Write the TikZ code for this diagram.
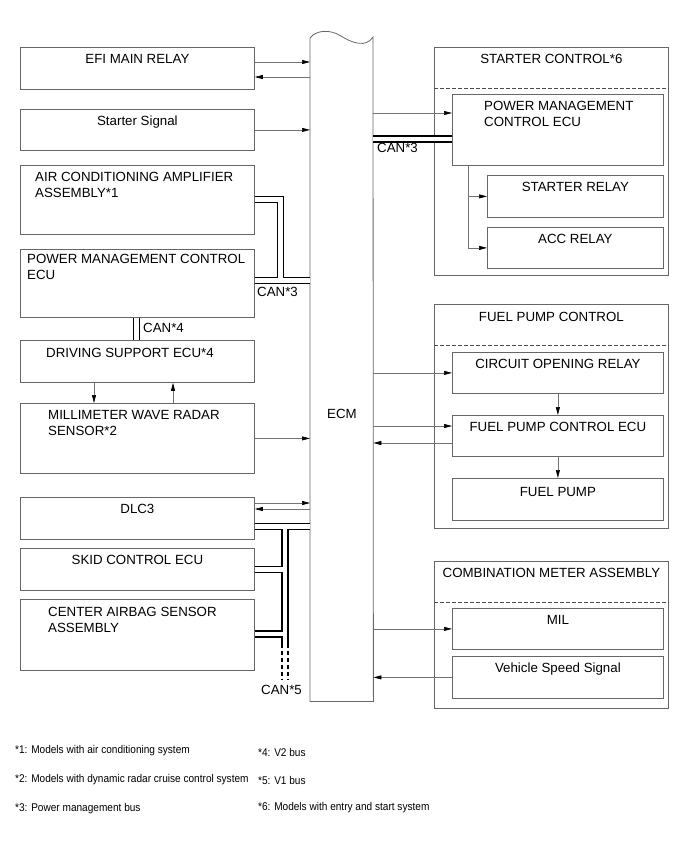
\documentclass[tikz,border=0pt]{standalone}
\usepackage{fontspec}
\setmainfont{Liberation Sans}
\newfontfamily\notefam[FakeStretch=0.9]{Liberation Sans}
\usetikzlibrary{arrows.meta}

\newcommand{\boxfont}{\fontsize{13.3}{16.5}\selectfont}
\newcommand{\notefont}{\notefam\fontsize{11.2}{13}\selectfont}

\tikzset{
  blk/.style={draw=black!60, line width=0.8pt, anchor=north west, inner sep=0pt},
  ttl/.style={anchor=north, inner sep=0pt, font=\boxfont, yshift=-7pt},
  ttll/.style={anchor=north west, inner sep=0pt, font=\boxfont, align=left, yshift=-7pt},
  sig/.style={draw=black!55, line width=0.6pt, -{Triangle[length=8pt,width=4pt,color=black]}},
  canbus/.style={draw=black, line width=1.6pt, double=white, double distance=4.4pt},
  divider/.style={draw=black!70, line width=0.6pt, dash pattern=on 4pt off 2pt},
  canlbl/.style={font=\boxfont, inner sep=0pt, anchor=west},
  note/.style={font=\notefont, inner sep=0pt, anchor=west},
}

\begin{document}
\begin{tikzpicture}[x=1pt, y=-1pt]
\useasboundingbox (0,0) rectangle (691,855);

% left column
\node[blk, minimum width=234pt, minimum height=42pt, label={[ttl]north:EFI MAIN RELAY}] (efi) at (20,47) {};
\node[blk, minimum width=234pt, minimum height=41pt, label={[ttl]north:Starter Signal}] (sts) at (20,109) {};
\node[blk, minimum width=234pt, minimum height=69pt, label={[ttll, xshift=15pt]north west:AIR CONDITIONING AMPLIFIER\\ASSEMBLY*1}] (acamp) at (20,165) {};
\node[blk, minimum width=234pt, minimum height=68pt, label={[ttll, xshift=7pt, yshift=2pt]north west:POWER MANAGEMENT CONTROL\\ECU}] (pmc) at (20,249) {};
\node[blk, minimum width=234pt, minimum height=42pt, label={[ttll, xshift=26pt, yshift=-1pt]north west:DRIVING SUPPORT ECU*4}] (dsecu) at (20,340) {};
\node[blk, minimum width=234pt, minimum height=70pt, label={[ttll, xshift=28pt]north west:MILLIMETER WAVE RADAR\\SENSOR*2}] (mwr) at (20,403) {};
\node[blk, minimum width=234pt, minimum height=42pt, label={[ttl]north:DLC3}] (dlc) at (20,497) {};
\node[blk, minimum width=234pt, minimum height=42pt, label={[ttl]north:SKID CONTROL ECU}] (skid) at (20,548) {};
\node[blk, minimum width=234pt, minimum height=71pt, label={[ttll, xshift=28pt, yshift=-1pt]north west:CENTER AIRBAG SENSOR\\ASSEMBLY}] (airbag) at (20,599) {};

% ECM
\node[anchor=north west, minimum width=63pt, minimum height=663pt, inner sep=0pt] (ecm) at (310,38) {};
\draw[draw=black!60, line width=0.8pt] (ecm.south west) -- (ecm.north west)
  .. controls +(6,-8) and +(-11,-7) .. ++(31,-2)
  .. controls +(11,7) and +(-7,11) .. ++(32,1) -- (ecm.south east) -- cycle;
\node[font=\boxfont, inner sep=0pt] (ecmtxt) at (342,414) {ECM};

% right column
\node[blk, minimum width=234pt, minimum height=228pt, label={[ttl]north:STARTER CONTROL*6}] (stgrp) at (434,47) {};
\draw[divider] (stgrp.west |- 0,88) -- (stgrp.east |- 0,88);
\node[blk, minimum width=211pt, minimum height=71pt, label={[ttll, xshift=32pt]north west:POWER MANAGEMENT\\CONTROL ECU}] (pmecu) at (452,94) {};
\node[blk, minimum width=176pt, minimum height=42pt, label={[ttl]north:STARTER RELAY}] (strelay) at (487,175) {};
\node[blk, minimum width=176pt, minimum height=41pt, label={[ttl]north:ACC RELAY}] (accrelay) at (487,227) {};

\node[blk, minimum width=234pt, minimum height=224pt, label={[ttl, yshift=-1pt]north:FUEL PUMP CONTROL}] (fpgrp) at (434,304) {};
\draw[divider] (fpgrp.west |- 0,345) -- (fpgrp.east |- 0,345);
\node[blk, minimum width=211pt, minimum height=41pt, label={[ttl]north:CIRCUIT OPENING RELAY}] (cor) at (452,352) {};
\node[blk, minimum width=211pt, minimum height=41pt, label={[ttl]north:FUEL PUMP CONTROL ECU}] (fpecu) at (452,415) {};
\node[blk, minimum width=211pt, minimum height=42pt, label={[ttl, yshift=-2pt]north:FUEL PUMP}] (fpump) at (452,478) {};

\node[blk, minimum width=234pt, minimum height=147pt, label={[ttl]north:COMBINATION METER ASSEMBLY}] (cmgrp) at (434,561) {};
\draw[divider] (cmgrp.west |- 0,602) -- (cmgrp.east |- 0,602);
\node[blk, minimum width=211pt, minimum height=41pt, label={[ttl]north:MIL}] (mil) at (452,608) {};
\node[blk, minimum width=211pt, minimum height=42pt, label={[ttl]north:Vehicle Speed Signal}] (vss) at (452,656) {};

% signal lines, left
\draw[sig] (efi.east |- 0,62) -- (ecm.west |- 0,62);
\draw[sig] (ecm.west |- 0,77) -- (efi.east |- 0,77);
\draw[sig] (sts.east) -- (sts.east -| ecm.west);
\draw[sig] ([xshift=74pt]dsecu.south west) -- ([xshift=74pt]mwr.north west);
\draw[sig] ([xshift=153pt]mwr.north west) -- ([xshift=153pt]dsecu.south west);
\draw[sig] (mwr.east) -- (mwr.east -| ecm.west);
\draw[sig] (dlc.east |- 0,503) -- (ecm.west |- 0,503);
\draw[sig] (ecm.west |- 0,509) -- (dlc.east |- 0,509);

% signal lines, right
\draw[sig] (ecm.east |- 0,113) -- (pmecu.west |- 0,113);
\draw[sig] ([xshift=16pt]pmecu.south west) |- (strelay.west);
\draw[sig] ([xshift=16pt]pmecu.south west) |- (accrelay.west);
\draw[sig] (ecm.east |- cor.west) -- (cor.west);
\draw[sig] (cor.south) -- (fpecu.north);
\draw[sig] (fpecu.south) -- (fpump.north);
\draw[sig] (ecm.east |- 0,426) -- (fpecu.west |- 0,426);
\draw[sig] (fpecu.west |- 0,443) -- (ecm.east |- 0,443);
\draw[sig] (ecm.east |- mil.west) -- (mil.west);
\draw[sig] (vss.west) -- (vss.west -| ecm.east);

% CAN lines
\draw[canbus] (acamp.east |- 0,199.5) -| (280.5,280.5)
  (pmc.east |- 0,280.5) -- (ecm.west |- 0,280.5);
\draw[canbus] ([xshift=116.5pt]pmc.south west) -- ([xshift=116.5pt]dsecu.north west);
\draw[canbus] (ecm.east |- 0,139) -- (pmecu.west |- 0,139);
\draw[canbus] (dlc.east |- 0,526.5) -- (ecm.west |- 0,526.5)
  (285,526.5) -- (285,648)
  (skid.east |- 0,569.5) -- (285,569.5)
  (airbag.east |- 0,634) -- (285,634);
\coordinate (can5end) at (285,680);
\draw[canbus, dash pattern=on 4pt off 3pt] (285,651) -- (can5end);

\node[canlbl] (can3l) at (257,292) {CAN*3};
\node[canlbl] (can3r) at (377,148) {CAN*3};
\node[canlbl] (can4) at (143,328) {CAN*4};
\node[canlbl] (can5) at (261,690) {CAN*5};

% notes
\node[note] (n1) at (15,751) {*1: Models with air conditioning system};
\node[note] (n2) at (15,780) {*2: Models with dynamic radar cruise control system};
\node[note] (n3) at (15,809) {*3: Power management bus};
\node[note] (n4) at (258,752) {*4: V2 bus};
\node[note] (n5) at (258,780) {*5: V1 bus};
\node[note] (n6) at (258,808) {*6: Models with entry and start system};
\end{tikzpicture}
\end{document}
